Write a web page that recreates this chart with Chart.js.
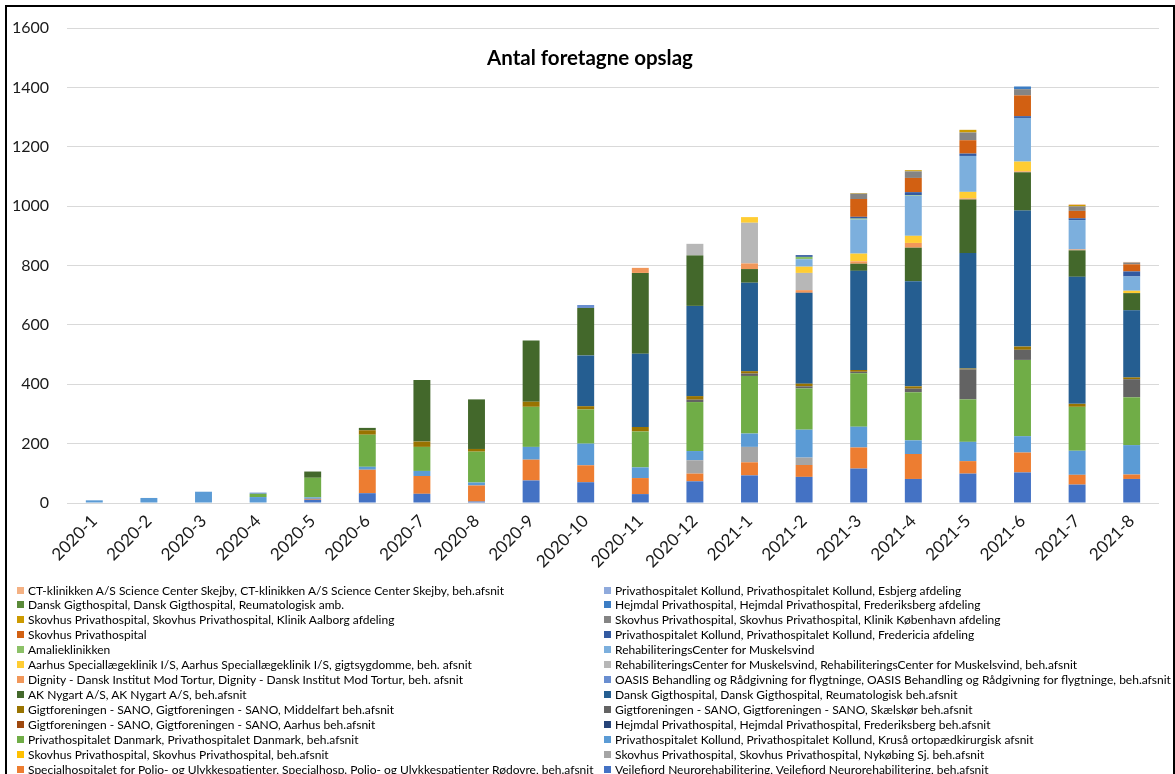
<!DOCTYPE html>
<html>
<head>
<meta charset="utf-8">
<script src="https://cdn.jsdelivr.net/npm/chart.js@4/dist/chart.umd.min.js"></script>
<style>
  html, body { margin: 0; padding: 0; background: #fff; }
  body { width: 1175px; height: 774px; position: relative; overflow: hidden; font-family: Lato, "Open Sans", sans-serif; }
  #frame { position: absolute; left: 5px; top: 5px; width: 1166px; height: 820px; border: 2px solid #000; box-sizing: content-box; }
  #wrap { position: absolute; left: 0; top: 0; width: 1175px; height: 580px; }
  #title { position: absolute; left: 0; width: 1180px; top: 44px; text-align: center; font-weight: 700; font-size: 20.5px; color: #000; line-height: 26px; }
  #legend { position: absolute; left: 0; top: 0; width: 1175px; height: 774px; pointer-events: none; }
  .li { position: absolute; height: 15px; display: flex; align-items: center; white-space: nowrap; color: #000; }
  .li span.box { display: inline-block; width: 7px; height: 7px; margin-right: 4px; flex: none; }
</style>
</head>
<body>
<div id="wrap"><canvas id="c" width="1175" height="580"></canvas></div>
<div id="title">Antal foretagne opslag</div>
<div id="legend"></div>
<div id="frame"></div>
<script>
// ---- data ----
const categories = ['2020-1','2020-2','2020-3','2020-4','2020-5','2020-6','2020-7','2020-8','2020-9','2020-10',
                    '2020-11','2020-12','2021-1','2021-2','2021-3','2021-4','2021-5','2021-6','2021-7','2021-8'];
const yTicks = [0, 200, 400, 600, 800, 1000, 1200, 1400, 1600];

// series, bottom of stack first
const vejlefjord       = [0,0,0,0,11,33,31,5,76,70,30,73,93,88,116,81,99,103,62,81];
const specialhosp      = [0,0,0,0,3,79,60,54,70,57,54,26,44,40,71,84,42,67,33,15];
const skovhusNykobing  = [0,0,0,0,0,0,0,0,0,0,0,45,52,25,0,0,0,0,0,0];
const skovhusBeh       = [0,0,0,0,0,0,0,0,0,0,0,0,0,0,0,0,0,0,0,0];
const kollundKrusaa    = [9,17,38,20,5,10,17,10,43,73,36,31,45,94,70,46,65,55,81,99];
const privDanmark      = [0,0,0,11,66,108,81,104,135,115,121,165,194,139,180,162,143,257,148,161];
const hejmdalBeh       = [0,0,0,0,0,0,0,0,0,0,0,0,0,0,0,0,0,0,0,0];
const gigtAarhus       = [0,0,0,0,0,0,0,0,0,0,0,0,0,0,0,0,0,0,0,0];
const gigtSkaelskor    = [0,0,0,0,0,0,0,0,0,0,0,8,8,7,5,12,101,34,0,61];
const gigtMiddelfart   = [0,0,0,0,0,15,18,9,17,11,15,12,8,9,6,8,3,11,10,6];
const danskGigtBeh     = [0,0,0,0,0,0,0,0,0,171,247,304,298,306,334,354,389,458,428,226];
const akNygart         = [0,0,0,0,21,8,207,167,206,160,272,170,46,0,24,113,180,129,89,58];
const oasis            = [0,0,0,4,0,0,0,0,0,10,0,0,0,0,0,0,0,0,0,0];
const dignity          = [0,0,0,0,0,0,0,0,0,0,17,0,19,9,8,16,4,3,3,0];
const rehabBeh         = [0,0,0,0,0,0,0,0,0,0,0,39,137,58,0,0,0,0,0,0];
const aarhusSpecial    = [0,0,0,0,0,0,0,0,0,0,0,0,19,21,26,24,22,33,0,8];
const rehabCenter      = [0,0,0,0,0,0,0,0,0,0,0,0,0,25,115,135,121,147,99,48];
const amalie           = [0,0,0,0,0,0,0,0,0,0,0,0,0,8,3,2,0,0,0,0];
const kollundFredericia= [0,0,0,0,0,0,0,0,0,0,0,0,0,6,6,10,8,6,6,17];
const skovhusPriv      = [0,0,0,0,0,0,0,0,0,0,0,0,0,0,60,48,45,70,25,24];
const skovhusKbh       = [0,0,0,0,0,0,0,0,0,0,0,0,0,0,18,22,26,21,15,6];
const skovhusAalborg   = [0,0,0,0,0,0,0,0,0,0,0,0,0,0,2,4,9,0,5,0];
const hejmdalAfd       = [0,0,0,0,0,0,0,0,0,0,0,0,0,0,0,0,0,9,0,0];
const danskGigtAmb     = [0,0,0,0,0,0,0,0,0,0,0,0,0,0,0,0,0,0,0,0];
const kollundEsbjerg   = [0,0,0,0,0,0,0,0,0,0,0,0,0,0,0,0,0,0,0,0];
const ctKlinikken      = [0,0,0,0,0,0,0,0,0,0,0,0,0,0,0,0,0,0,2,2];

const seriesNames = [
  'Vejlefjord Neurorehabilitering, Vejlefjord Neurorehabilitering, beh.afsnit',
  'Specialhospitalet for Polio- og Ulykkespatienter, Specialhosp. Polio- og Ulykkespatienter Rødovre, beh.afsnit',
  'Skovhus Privathospital, Skovhus Privathospital, Nykøbing Sj. beh.afsnit',
  'Skovhus Privathospital, Skovhus Privathospital, beh.afsnit',
  'Privathospitalet Kollund, Privathospitalet Kollund, Kruså ortopædkirurgisk afsnit',
  'Privathospitalet Danmark, Privathospitalet Danmark, beh.afsnit',
  'Hejmdal Privathospital, Hejmdal Privathospital, Frederiksberg beh.afsnit',
  'Gigtforeningen - SANO, Gigtforeningen - SANO, Aarhus beh.afsnit',
  'Gigtforeningen - SANO, Gigtforeningen - SANO, Skælskør beh.afsnit',
  'Gigtforeningen - SANO, Gigtforeningen - SANO, Middelfart beh.afsnit',
  'Dansk Gigthospital, Dansk Gigthospital, Reumatologisk beh.afsnit',
  'AK Nygart A/S, AK Nygart A/S, beh.afsnit',
  'OASIS Behandling og Rådgivning for flygtninge, OASIS Behandling og Rådgivning for flygtninge, beh.afsnit',
  'Dignity - Dansk Institut Mod Tortur, Dignity - Dansk Institut Mod Tortur, beh. afsnit',
  'RehabiliteringsCenter for Muskelsvind, RehabiliteringsCenter for Muskelsvind, beh.afsnit',
  'Aarhus Speciallægeklinik I/S, Aarhus Speciallægeklinik I/S, gigtsygdomme, beh. afsnit',
  'RehabiliteringsCenter for Muskelsvind',
  'Amalieklinikken',
  'Privathospitalet Kollund, Privathospitalet Kollund, Fredericia afdeling',
  'Skovhus Privathospital',
  'Skovhus Privathospital, Skovhus Privathospital, Klinik København afdeling',
  'Skovhus Privathospital, Skovhus Privathospital, Klinik Aalborg afdeling',
  'Hejmdal Privathospital, Hejmdal Privathospital, Frederiksberg afdeling',
  'Dansk Gigthospital, Dansk Gigthospital, Reumatologisk amb.',
  'Privathospitalet Kollund, Privathospitalet Kollund, Esbjerg afdeling',
  'CT-klinikken A/S Science Center Skejby, CT-klinikken A/S Science Center Skejby, beh.afsnit'
];
const seriesValues = [vejlefjord, specialhosp, skovhusNykobing, skovhusBeh, kollundKrusaa, privDanmark,
  hejmdalBeh, gigtAarhus, gigtSkaelskor, gigtMiddelfart, danskGigtBeh, akNygart, oasis, dignity, rehabBeh,
  aarhusSpecial, rehabCenter, amalie, kollundFredericia, skovhusPriv, skovhusKbh, skovhusAalborg,
  hejmdalAfd, danskGigtAmb, kollundEsbjerg, ctKlinikken];

// ---- style ----
const seriesColors = ['#4472C4','#ED7D31','#A5A5A5','#FFC000','#5B9BD5','#70AD47',
  '#264478','#9E480E','#636363','#997300','#255E91','#43682B',
  '#698ED0','#F1975A','#B7B7B7','#FFCD33','#7CAFDD','#8CC168',
  '#335AA1','#D26012','#848484','#CC9A00','#3C7DC4','#5A8A39',
  '#8FAADC','#F4B183'];

const datasets = seriesNames.map((name, i) => ({
  label: name,
  data: seriesValues[i],
  backgroundColor: seriesColors[i],
  borderWidth: 0,
  categoryPercentage: 1.0,
  barPercentage: 0.31
}));

const chart = new Chart(document.getElementById('c'), {
  type: 'bar',
  data: { labels: categories, datasets },
  options: {
    responsive: false,
    animation: false,
    devicePixelRatio: 1,
    layout: { padding: { left: 0, right: 16, top: 28, bottom: 0 } },
    plugins: { legend: { display: false }, title: { display: false }, tooltip: { enabled: false } },
    scales: {
      x: {
        stacked: true,
        grid: { display: false, drawTicks: false },
        border: { display: false },
        ticks: { minRotation: 45, maxRotation: 45, padding: 8, color: '#1a1a1a', font: { family: 'Lato', size: 17 } },
        afterFit: s => { s.height = 77; }
      },
      y: {
        stacked: true,
        min: 0, max: 1600,
        grid: { color: '#D9D9D9', lineWidth: 1, drawTicks: false },
        border: { display: false },
        afterBuildTicks: s => { s.ticks = yTicks.map(v => ({ value: v })); },
        ticks: { padding: 18, color: '#1a1a1a', font: { family: 'Lato', size: 16 }, callback: v => String(v) },
        afterFit: s => { s.width = 67; }
      }
    }
  }
});

// ---- HTML legend (two columns, row-wise, reversed series order like the source) ----
const legendEl = document.getElementById('legend');
const items = chart.data.datasets.map((d, i) => ({ text: d.label, color: d.backgroundColor })).reverse();
const ctx = document.createElement('canvas').getContext('2d');
ctx.font = '12px Lato';
const target = 566; // width of the longest left-column entry in the source
const longest = Math.max(...items.filter((_, k) => k % 2 === 0).map(it => ctx.measureText(it.text).width));
const fs = Math.min(12.5, 12 * target / longest);
items.forEach((it, k) => {
  const col = k % 2, row = Math.floor(k / 2);
  const el = document.createElement('div');
  el.className = 'li';
  el.style.left = (col === 0 ? 17 : 604) + 'px';
  el.style.top = (582.5 + row * 14.92) + 'px';
  el.style.fontSize = fs + 'px';
  const b = document.createElement('span');
  b.className = 'box';
  b.style.background = it.color;
  el.appendChild(b);
  el.appendChild(document.createTextNode(it.text));
  legendEl.appendChild(el);
});
</script>
</body>
</html>
